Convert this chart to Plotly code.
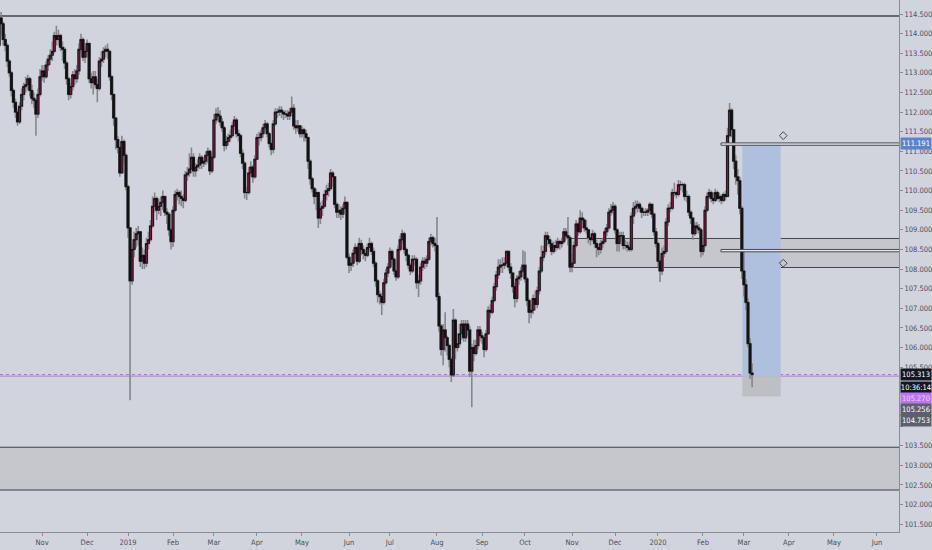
import pandas as pd
import plotly.graph_objects as go

# ---------------- data (USD/JPY daily) ----------------
first_open = 113.70

closes = [
    # Oct 2018
    114.40, 114.25, 113.85, 113.70, 113.30, 113.00, 112.55, 112.25, 112.00, 111.75, 112.15,
    112.45, 112.65, 112.70, 112.85, 112.55, 112.35, 112.30, 111.95, 112.45, 112.90,
    # Nov 2018
    113.05, 112.90, 113.20, 113.35, 113.45, 113.55, 113.95, 113.85, 113.95, 113.65, 113.60,
    113.25, 112.85, 112.45, 112.65, 112.95, 112.85, 113.05, 113.60, 113.85, 113.40, 113.55,
    # Dec 2018
    113.75, 112.85, 112.75, 112.90, 112.70, 112.60, 113.30, 113.35, 113.55, 113.60,
    113.55, 112.90, 112.45, 111.85, 111.30, 111.10, 110.45, 111.25, 110.90, 110.10,
    # Jan 2019
    109.05, 107.70, 108.50, 108.75, 108.90, 108.95, 108.20, 108.35, 108.15, 108.65, 108.75,
    109.10, 109.60, 109.80, 109.50, 109.60, 109.70, 109.85, 109.45, 109.40, 109.00, 108.70,
    # Feb 2019
    109.50, 109.90, 109.95, 109.85, 109.80, 109.75, 110.40, 110.45, 110.55, 110.85,
    110.50, 110.60, 110.65, 110.85, 110.70, 110.75, 110.90, 111.00, 110.50, 110.85,
    # Mar 2019
    111.80, 111.95, 111.90, 111.75, 111.60, 111.15, 111.25, 111.35, 111.40, 111.65, 111.80,
    111.45, 111.40, 110.95, 110.70, 109.95, 109.95, 110.45, 110.60, 110.35, 110.80,
    # Apr 2019
    111.35, 111.35, 111.45, 111.60, 111.70, 111.45, 111.20, 111.05, 111.70, 112.00, 112.00,
    112.05, 112.00, 111.95, 111.95, 111.90, 112.00, 112.10, 111.65, 111.60, 111.65, 111.45,
    # May 2019
    111.55, 111.45, 111.35, 110.75, 110.30, 110.05, 109.85, 109.95, 109.30, 109.55, 109.60, 109.90,
    110.00, 110.05, 110.45, 110.35, 109.65, 109.45, 109.50, 109.40, 109.55, 109.70, 108.30,
    # Jun 2019
    108.10, 108.15, 108.40, 108.55, 108.20, 108.65, 108.50, 108.40, 108.35, 108.55,
    108.65, 108.45, 108.15, 107.70, 107.35, 107.30, 107.15, 107.65, 107.90, 108.05,
    # Jul 2019
    108.45, 108.25, 107.95, 107.80, 108.50, 108.75, 108.90, 108.50, 108.35, 108.10, 107.95, 108.25,
    108.25, 107.65, 107.70, 108.05, 108.20, 108.15, 108.25, 108.70, 108.80, 108.65, 108.60,
    # Aug 2019
    107.30, 106.55, 105.95, 106.45, 106.25, 106.05, 105.70, 105.30, 106.70, 106.00, 106.10,
    106.35, 106.60, 106.25, 106.60, 106.45, 105.40, 106.00, 105.85, 106.05, 106.45, 106.30,
    # Sep 2019
    106.25, 105.95, 106.35, 106.95, 106.90, 107.20, 107.55, 107.85, 108.05, 108.10, 108.10,
    108.15, 108.45, 108.05, 107.90, 107.55, 107.25, 107.75, 107.80, 107.95, 108.10,
    # Oct 2019
    107.75, 107.20, 106.90, 106.95, 107.25, 107.10, 107.45, 107.95, 108.30, 108.45, 108.85, 108.75,
    108.65, 108.45, 108.60, 108.55, 108.70, 108.65, 108.70, 108.95, 108.85, 108.80, 108.05,
    # Nov 2019
    108.15, 108.60, 109.15, 108.95, 109.30, 109.25, 109.05, 109.00, 108.80, 108.75, 108.90,
    108.65, 108.55, 108.50, 108.65, 108.70, 108.95, 109.05, 109.45, 109.50, 109.60,
    # Dec 2019
    109.00, 108.65, 108.85, 108.85, 108.60, 108.60, 108.55, 108.50, 109.35, 109.55, 109.60,
    109.65, 109.55, 109.45, 109.45, 109.45, 109.50, 109.65, 109.40, 108.95, 108.65,
    # Jan 2020
    108.20, 107.95, 108.40, 108.45, 109.20, 109.55, 109.55, 109.95, 109.95, 109.90, 110.15,
    110.15, 110.15, 109.85, 109.85, 109.45, 109.30, 108.90, 109.10, 109.05, 109.00, 108.45,
    # Feb 2020
    108.60, 109.50, 109.85, 109.95, 109.80, 109.75, 109.95, 109.80, 109.85, 109.75,
    109.90, 109.85, 111.40, 112.05, 111.55, 110.75, 110.35, 110.25, 109.55, 107.95,
    # Mar 2020
    107.60, 107.15, 106.10, 105.35, 105.31,
]

highs = [
    # Oct 2018
    114.50, 114.55, 114.30, 114.00, 113.75, 113.35, 113.05, 112.60, 112.35, 112.10, 112.25,
    112.60, 112.75, 112.90, 112.95, 112.90, 112.70, 112.50, 112.35, 112.60, 113.10,
    # Nov 2018
    113.20, 113.20, 113.30, 113.45, 113.60, 113.80, 114.05, 114.20, 114.10, 114.00, 113.80,
    113.65, 113.30, 112.90, 112.75, 113.05, 113.10, 113.20, 113.75, 114.00, 113.90, 113.65,
    # Dec 2018
    113.85, 113.75, 113.00, 113.05, 113.05, 112.85, 113.40, 113.55, 113.65, 113.70,
    113.75, 113.45, 112.95, 112.45, 111.85, 111.40, 111.10, 111.40, 111.30, 110.95,
    # Jan 2019
    110.15, 109.05, 108.65, 108.95, 109.05, 109.10, 108.95, 108.55, 108.50, 108.80, 108.95,
    109.25, 109.85, 109.95, 109.85, 109.80, 109.85, 110.00, 109.85, 109.55, 109.45, 109.05,
    # Feb 2019
    109.60, 110.00, 110.05, 110.00, 110.00, 109.90, 110.50, 110.60, 110.95, 111.10,
    110.95, 110.70, 110.80, 110.95, 110.90, 110.85, 111.00, 111.10, 111.05, 110.95,
    # Mar 2019
    111.95, 112.10, 112.13, 112.05, 111.85, 111.65, 111.40, 111.45, 111.55, 111.75, 111.90,
    111.85, 111.55, 111.45, 111.05, 110.75, 110.10, 110.60, 110.75, 110.65, 110.90,
    # Apr 2019
    111.45, 111.50, 111.55, 111.70, 111.80, 111.75, 111.50, 111.25, 111.80, 112.10, 112.10,
    112.15, 112.15, 112.05, 112.05, 112.05, 112.10, 112.40, 112.20, 111.80, 111.80, 111.65,
    # May 2019
    111.65, 111.60, 111.55, 111.05, 110.80, 110.35, 110.10, 110.05, 109.95, 109.70, 109.75, 110.00,
    110.15, 110.20, 110.55, 110.50, 110.35, 109.70, 109.65, 109.60, 109.65, 109.85, 109.70,
    # Jun 2019
    108.40, 108.30, 108.50, 108.65, 108.60, 108.80, 108.75, 108.60, 108.50, 108.65,
    108.80, 108.70, 108.55, 108.20, 107.75, 107.45, 107.40, 107.75, 108.00, 108.15,
    # Jul 2019
    108.55, 108.50, 108.30, 108.00, 108.60, 108.85, 109.00, 108.95, 108.55, 108.40, 108.15, 108.35,
    108.35, 108.30, 107.85, 108.15, 108.30, 108.30, 108.35, 108.80, 108.90, 108.85, 108.80,
    # Aug 2019
    109.33, 107.40, 106.60, 106.60, 106.90, 106.30, 106.10, 105.75, 106.98, 106.75, 106.35,
    106.60, 106.70, 106.70, 106.70, 106.70, 106.55, 106.10, 106.20, 106.20, 106.55, 106.55,
    # Sep 2019
    106.40, 106.30, 106.45, 107.05, 107.10, 107.30, 107.65, 107.95, 108.25, 108.25, 108.30,
    108.30, 108.48, 108.45, 108.15, 107.90, 107.65, 107.85, 107.95, 108.05, 108.48,
    # Oct 2019
    108.45, 107.80, 107.25, 107.10, 107.35, 107.45, 107.55, 108.05, 108.60, 108.60, 108.95, 108.95,
    108.85, 108.75, 108.70, 108.75, 108.80, 108.75, 108.80, 109.05, 109.05, 109.33, 108.85,
    # Nov 2019
    108.40, 108.70, 109.25, 109.20, 109.50, 109.45, 109.30, 109.25, 109.00, 108.90, 109.00,
    108.95, 108.75, 108.65, 108.75, 108.80, 109.05, 109.15, 109.55, 109.65, 109.71,
    # Dec 2019
    109.65, 109.05, 108.95, 108.95, 108.95, 108.75, 108.70, 108.70, 109.45, 109.71, 109.75,
    109.75, 109.70, 109.60, 109.55, 109.55, 109.55, 109.70, 109.65, 109.45, 109.05,
    # Jan 2020
    108.70, 108.25, 108.55, 108.60, 109.30, 109.65, 109.71, 110.05, 110.20, 110.00, 110.27,
    110.25, 110.20, 110.20, 110.00, 109.90, 109.50, 109.30, 109.20, 109.20, 109.15, 109.05,
    # Feb 2020
    108.70, 109.60, 109.95, 110.05, 110.00, 109.95, 110.05, 110.00, 109.95, 109.90,
    109.95, 110.00, 111.60, 112.23, 112.10, 111.55, 110.90, 110.55, 110.35, 109.60,
    # Mar 2020
    108.50, 107.75, 107.25, 106.25, 105.60,
]

lows = [
    # Oct 2018
    113.70, 113.95, 113.70, 113.55, 113.15, 112.90, 112.40, 112.10, 111.85, 111.65, 111.70,
    112.05, 112.30, 112.50, 112.55, 112.40, 112.20, 112.10, 111.40, 111.85, 112.40,
    # Nov 2018
    112.80, 112.75, 112.85, 113.05, 113.20, 113.30, 113.50, 113.70, 113.70, 113.55, 113.30,
    113.10, 112.70, 112.30, 112.35, 112.55, 112.70, 112.75, 112.95, 113.50, 113.30, 113.25,
    # Dec 2018
    113.40, 112.75, 112.60, 112.45, 112.60, 112.25, 112.55, 113.15, 113.25, 113.40,
    113.35, 112.80, 112.30, 111.65, 111.05, 110.95, 110.35, 110.45, 110.70, 110.00,
    # Jan 2019
    108.80, 104.66, 107.60, 108.30, 108.55, 108.60, 108.05, 108.00, 108.00, 108.05, 108.50,
    108.70, 109.05, 109.45, 109.25, 109.40, 109.35, 109.50, 109.35, 109.15, 108.85, 108.50,
    # Feb 2019
    108.56, 109.45, 109.75, 109.65, 109.60, 109.55, 109.70, 110.25, 110.35, 110.45,
    110.35, 110.35, 110.50, 110.55, 110.55, 110.60, 110.65, 110.70, 110.40, 110.45,
    # Mar 2019
    110.80, 111.70, 111.75, 111.65, 111.50, 111.00, 111.05, 111.15, 111.25, 111.35, 111.55,
    111.35, 111.25, 110.85, 110.55, 109.80, 109.76, 109.90, 110.35, 110.20, 110.30,
    # Apr 2019
    110.80, 111.15, 111.25, 111.35, 111.50, 111.35, 111.10, 110.90, 110.95, 111.65, 111.85,
    111.90, 111.85, 111.80, 111.85, 111.80, 111.80, 111.90, 111.55, 111.45, 111.50, 111.35,
    # May 2019
    111.35, 111.25, 111.25, 110.55, 110.15, 109.95, 109.65, 109.50, 109.05, 109.15, 109.35, 109.55,
    109.75, 109.85, 110.00, 110.10, 109.55, 109.30, 109.30, 109.25, 109.30, 109.50, 108.25,
    # Jun 2019
    107.90, 107.95, 108.05, 108.25, 108.10, 108.15, 108.35, 108.25, 108.20, 108.30,
    108.45, 108.35, 108.05, 107.55, 107.15, 107.10, 106.83, 107.10, 107.60, 107.80,
    # Jul 2019
    108.00, 108.10, 107.85, 107.70, 107.75, 108.45, 108.65, 108.40, 108.20, 108.00, 107.85, 107.90,
    108.10, 107.50, 107.29, 107.60, 107.95, 108.00, 108.05, 108.20, 108.60, 108.55, 108.45,
    # Aug 2019
    107.20, 106.40, 105.80, 105.55, 105.90, 105.80, 105.50, 105.12, 105.25, 105.70, 105.90,
    106.00, 106.20, 106.15, 106.15, 106.30, 105.25, 104.48, 105.65, 105.80, 105.95, 106.15,
    # Sep 2019
    106.10, 105.75, 105.90, 106.35, 106.75, 106.85, 107.15, 107.45, 107.75, 107.90, 107.90,
    108.00, 108.05, 107.95, 107.75, 107.40, 107.03, 107.15, 107.60, 107.70, 107.90,
    # Oct 2019
    107.65, 107.05, 106.62, 106.75, 106.85, 106.95, 107.00, 107.35, 107.90, 108.20, 108.35, 108.60,
    108.55, 108.35, 108.40, 108.45, 108.50, 108.50, 108.55, 108.65, 108.75, 108.60, 107.92,
    # Nov 2019
    107.92, 108.15, 108.55, 108.85, 108.90, 109.05, 108.95, 108.90, 108.65, 108.60, 108.70,
    108.55, 108.30, 108.35, 108.40, 108.55, 108.65, 108.85, 109.00, 109.35, 109.40,
    # Dec 2019
    108.90, 108.45, 108.45, 108.70, 108.50, 108.50, 108.45, 108.45, 108.45, 109.15, 109.40,
    109.45, 109.45, 109.30, 109.35, 109.35, 109.35, 109.40, 109.30, 108.85, 108.55,
    # Jan 2020
    108.05, 107.67, 107.85, 108.30, 108.40, 109.10, 109.45, 109.50, 109.85, 109.80, 109.85,
    110.00, 109.95, 109.75, 109.70, 109.35, 109.15, 108.75, 108.85, 108.90, 108.90, 108.30,
    # Feb 2020
    108.35, 108.55, 109.45, 109.80, 109.70, 109.65, 109.70, 109.75, 109.70, 109.65,
    109.70, 109.75, 109.85, 111.35, 111.35, 110.55, 110.15, 109.90, 109.40, 107.75,
    # Mar 2020
    107.30, 106.95, 106.00, 105.20, 104.99,
]

holidays = ["2018-12-25", "2019-01-01", "2019-12-25", "2020-01-01"]

tick_dates = ["2018-11-01", "2018-12-03", "2019-01-02", "2019-02-01", "2019-03-01",
              "2019-04-01", "2019-05-01", "2019-06-03", "2019-07-01", "2019-08-01",
              "2019-09-02", "2019-10-01", "2019-11-01", "2019-12-02", "2020-01-02",
              "2020-02-03", "2020-03-02", "2020-04-01", "2020-05-01", "2020-06-01"]
tick_text = ["Nov", "Dec", "2019", "Feb", "Mar", "Apr", "May", "Jun", "Jul", "Aug",
             "Sep", "Oct", "Nov", "Dec", "2020", "Feb", "Mar", "Apr", "May", "Jun"]
price_ticks = [101.5 + 0.5 * i for i in range(27)]
hidden_price_ticks = [104.0, 104.5, 105.0]   # covered by the price labels on the axis

# drawing levels
top_level = 114.45
lower_zone = (102.37, 103.46)
range_zone = (108.04, 108.78)
rays = [(111.155, 111.215), (108.44, 108.50)]
pos_top, pos_entry, pos_target = 111.191, 105.256, 104.753
last_price = 105.313
purple_level = 105.27
diamond_levels = [111.40, 108.15]

# ---------------- build ----------------
dates = [d for d in pd.bdate_range("2018-10-03", "2020-03-06")
         if d.strftime("%Y-%m-%d") not in holidays]
n = min(len(dates), len(closes), len(highs), len(lows))
dates = dates[:n]
c = closes[:n]
opens = ([first_open] + closes[:-1])[:n]
h = [max(a, b, x) for a, b, x in zip(highs[:n], opens, c)]
l = [min(a, b, x) for a, b, x in zip(lows[:n], opens, c)]
body_hi = [max(o, x) for o, x in zip(opens, c)]
body_lo = [min(o, x) for o, x in zip(opens, c)]

price_text = ["" if any(abs(v - hv) < 1e-9 for hv in hidden_price_ticks) else f"{v:.3f}"
              for v in price_ticks]

BG = "#D1D4DC"
AX = "#8A8D95"
TXT = "#4C4F58"
FONT = "Liberation Sans Narrow, DejaVu Sans Condensed, Arial Narrow, sans-serif"
MAROON = "#8B1845"

fig = go.Figure()

# wicks (gray)
fig.add_trace(go.Candlestick(
    x=dates, open=opens, high=h, low=l, close=c,
    increasing=dict(line=dict(color="#85878D", width=1.6), fillcolor="#85878D"),
    decreasing=dict(line=dict(color="#85878D", width=1.6), fillcolor="#85878D"),
    hoverinfo="skip", showlegend=False))
# bodies (black border, maroon up / black down)
fig.add_trace(go.Candlestick(
    x=dates, open=opens, high=body_hi, low=body_lo, close=c,
    increasing=dict(line=dict(color="#111111", width=0.9), fillcolor=MAROON),
    decreasing=dict(line=dict(color="#111111", width=0.9), fillcolor="#111111"),
    hoverinfo="skip", showlegend=False))

fig.add_trace(go.Scatter(
    x=["2020-03-27 05:00"] * len(diamond_levels), y=diamond_levels, mode="markers",
    marker=dict(symbol="diamond-open", size=6, color="#4A4A4A", line=dict(width=1)),
    hoverinfo="skip", showlegend=False))

shapes = []
# lower grey zone
shapes.append(dict(type="rect", xref="paper", yref="y", x0=0, x1=1,
                   y0=lower_zone[0], y1=lower_zone[1], fillcolor="#C5C7CD",
                   line=dict(width=0), layer="below"))
for yv in lower_zone:
    shapes.append(dict(type="line", xref="paper", yref="y", x0=0, x1=1, y0=yv, y1=yv,
                       line=dict(color="#3E3F44", width=1), layer="below"))
# top horizontal line
shapes.append(dict(type="line", xref="paper", yref="y", x0=0, x1=1, y0=top_level, y1=top_level,
                   line=dict(color="#45464B", width=1.5), layer="below"))
# range zone
shapes.append(dict(type="rect", xref="x", yref="y", x0="2019-10-31 12:00", x1="2020-08-31",
                   y0=range_zone[0], y1=range_zone[1], fillcolor="#C5C7CD",
                   line=dict(width=0), layer="below"))
for yv in range_zone:
    shapes.append(dict(type="line", xref="x", yref="y", x0="2019-10-31 12:00", x1="2020-08-31",
                       y0=yv, y1=yv, line=dict(color="#45464B", width=1), layer="below"))
# position tool boxes
shapes.append(dict(type="rect", xref="x", yref="y", x0="2020-02-28 05:00", x1="2020-03-26 00:00",
                   y0=pos_entry, y1=pos_top, fillcolor="#AEC0DE", line=dict(width=0), layer="below"))
shapes.append(dict(type="rect", xref="x", yref="y", x0="2020-02-28 05:00", x1="2020-03-26 00:00",
                   y0=pos_target, y1=pos_entry, fillcolor="#BDBFC5", line=dict(width=0), layer="below"))
# rays
for y0, y1 in rays:
    shapes.append(dict(type="rect", xref="x", yref="y", x0="2020-02-13 19:00", x1="2020-08-31",
                       y0=y0, y1=y1, fillcolor="#E6E7EB",
                       line=dict(color="#4A4B50", width=1), layer="above"))
# last price line and purple line
shapes.append(dict(type="line", xref="paper", yref="y", x0=0, x1=1, y0=last_price, y1=last_price,
                   line=dict(color="#8E9096", width=1, dash="dot"), layer="below"))
shapes.append(dict(type="line", xref="paper", yref="y", x0=0, x1=1, y0=purple_level, y1=purple_level,
                   line=dict(color="#C47EF5", width=1.3), layer="below"))

labels = [
    ("111.191", pos_top, "#5B84CF", "#FFFFFF"),
    ("105.313", 105.313, "#131722", "#FFFFFF"),
    ("10:36:14", 104.99, "#131722", "#FFFFFF"),
    ("105.270", 104.71, "#BD74F2", "#E8D6FB"),
    ("105.256", 104.43, "#5D606B", "#FFFFFF"),
    ("104.753", 104.15, "#5D606B", "#FFFFFF"),
]
annotations = []
for txt, yv, bgc, fc in labels:
    annotations.append(dict(xref="paper", yref="y", x=1, y=yv, xanchor="left", yanchor="middle",
                            xshift=1, text=txt, showarrow=False, bgcolor=bgc, width=30, height=11,
                            borderpad=0, align="center",
                            font=dict(family=FONT, size=7.5, color=fc)))

fig.update_layout(
    template="none",
    width=932, height=550,
    margin=dict(l=0, r=33, t=0, b=18),
    paper_bgcolor=BG, plot_bgcolor=BG,
    showlegend=False,
    boxgap=0.05, boxgroupgap=0,
    shapes=shapes, annotations=annotations,
    xaxis=dict(
        type="date", range=["2018-10-03 10:30", "2020-06-15 19:00"],
        rangebreaks=[dict(bounds=["sat", "mon"]), dict(values=holidays)],
        rangeslider=dict(visible=False), showgrid=False, zeroline=False,
        tickmode="array", tickvals=tick_dates, ticktext=tick_text,
        ticks="outside", ticklen=3, tickcolor=AX, showline=True, linecolor=AX, linewidth=1,
        tickfont=dict(family=FONT, size=7.5, color=TXT), automargin=False, fixedrange=True),
    yaxis=dict(
        side="right", range=[101.30, 114.857], showgrid=False, zeroline=False,
        tickmode="array", tickvals=price_ticks, ticktext=price_text,
        ticks="outside", ticklen=3, tickcolor=AX, showline=True, linecolor=AX, linewidth=1,
        tickfont=dict(family=FONT, size=7.5, color=TXT), automargin=False, fixedrange=True),
)

fig.write_html(
    "out.html",
    config={"displayModeBar": False},
    post_script="document.body.style.margin='0';document.body.style.padding='0';"
                "document.body.style.overflow='hidden';document.body.style.background='" + BG + "';",
)
